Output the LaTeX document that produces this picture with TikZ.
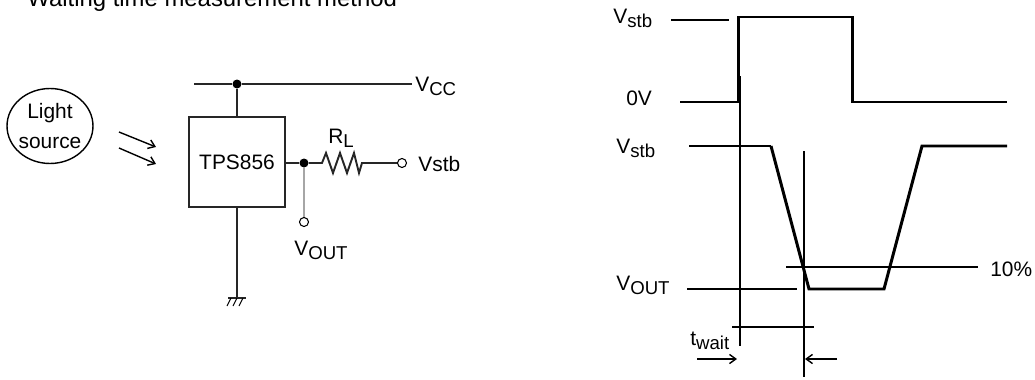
\documentclass[tikz,border=0pt]{standalone}
\usepackage{fontspec}
\setmainfont{Liberation Sans}
\usetikzlibrary{shapes.geometric,arrows.meta}
\newcommand{\lowsub}[1]{\raisebox{-2.3pt}{\fontsize{10.6}{12}\selectfont #1}}
\begin{document}
\begin{tikzpicture}
[x=0.02cm,y=-0.02cm,
  font=\fontsize{11.9}{17}\selectfont,
  wiredecorate/.style={-,line width=1.1pt,draw=black!85},
  wavedecorate/.style={-,line width=1.7pt,line join=miter},
  thindecorate/.style={-,line width=0.6pt},
  dropdecorate/.style={-,line width=0.6pt,draw=black!35},
  raydecorate/.style={-{Straight Barb[length=3.6pt,width=5.2pt]},line width=0.8pt},
  dotdecorate/.style={shape=circle,fill=black,inner sep=0pt,minimum size=0.18cm},
  portdecorate/.style={shape=circle,draw,line width=0.6pt,fill=white,inner sep=0pt,minimum size=0.18cm},
  boxdecorate/.style={draw=black!85,line width=1.1pt,minimum width=1.92cm,minimum height=1.8cm},
  labeldecorate/.style={anchor=base west,inner sep=0pt}]
\useasboundingbox (0,0) rectangle (1035,379);
%% title
\node (title) at (27,6) [labeldecorate,font=\fontsize{13.6}{16}\selectfont]
  {Waiting time measurement method};
%% light source
\node (light) at (50,126) [shape=ellipse,draw,line width=0.8pt,
  minimum width=1.72cm,minimum height=1.5cm] {};
\node (lighttext) at (light.center) [align=center,inner sep=0pt] {Light\\source};
%% nodes or vertices
\foreach \nodename/\x/\y in {vcctap/237/84, outtap/304/163} {
  \node (\nodename) at (\x,\y) [dotdecorate] {};
}
\foreach \nodename/\x/\y in {vstbport/402/163, voutport/304/222} {
  \node (\nodename) at (\x,\y) [portdecorate] {};
}
\foreach \nodename/\x/\y in {vccleft/194/84, vccright/412/84, gnd/237/298,
    rlstart/322/163, raya/119/132, rayaend/156/147, rayb/119/148, raybend/156/164} {
  \coordinate (\nodename) at (\x,\y);
}
\node (tps) at (237,162) [boxdecorate] {TPS856};
%% edges or lines
\draw[wiredecorate] (vccleft) -- (vcctap) -- (vccright);
\draw[wiredecorate] (vcctap) -- (tps);
\draw[wiredecorate] (tps) -- (gnd);
\draw[wiredecorate] (tps.east |- outtap) -- (outtap) -- (rlstart)
  -- ++(4,-10) -- ++(7,20) -- ++(7,-20) -- ++(7,20) -- ++(7,-20) -- ++(5,20) -- ++(3,-10)
  -- (vstbport);
\draw[dropdecorate] (outtap) -- (voutport);
%% ground
\draw[wiredecorate] (gnd) ++(-9,0) -- ++(18,0);
\foreach \dx in {-6,0,6} {
  \draw[thindecorate] (gnd) ++(\dx,0) -- ++(-4,8);
}
%% light rays
\draw[raydecorate] (raya) -- (rayaend);
\draw[raydecorate] (rayb) -- (raybend);
%% circuit labels
\node (vcclabel) at (415,91) [labeldecorate] {V\lowsub{CC}};
\node (rllabel) at (328,143) [labeldecorate] {R\lowsub{L}};
\node (vstblabel) at (418,171) [labeldecorate] {Vstb};
\node (voutlabel) at (294,255) [labeldecorate] {V\lowsub{OUT}};
%% waveforms
\draw[wavedecorate] (680,102) -- (738,102) -- (738,17) -- (852,17) -- (852,102) -- (1007,102);
\draw[wavedecorate] (771,146) -- (809,289) -- (884,289) -- (922,146) -- (1007,146);
\draw[wavedecorate] (687,289) -- (797,289);
\foreach \xa/\ya/\xb/\yb in {671/20/729/20, 740/76/740/346, 689/146/771/146,
    804/151/804/377, 786/267/978/267, 732/327/814/327} {
  \draw[thindecorate] (\xa,\ya) -- (\xb,\yb);
}
\draw[raydecorate] (697,359) -- (737,359);
\draw[raydecorate] (837,359) -- (805,359);
%% waveform labels
\node (wvstbtop) at (613,23) [labeldecorate] {V\lowsub{stb}};
\node (wzero) at (626,105) [labeldecorate] {0V};
\node (wvstbbot) at (616,153) [labeldecorate] {V\lowsub{stb}};
\node (wvout) at (616,290) [labeldecorate] {V\lowsub{OUT}};
\node (wten) at (990,276) [labeldecorate] {10\%};
\node (wtwait) at (690,345) [labeldecorate] {t\lowsub{wait}};
\end{tikzpicture}
\end{document}
